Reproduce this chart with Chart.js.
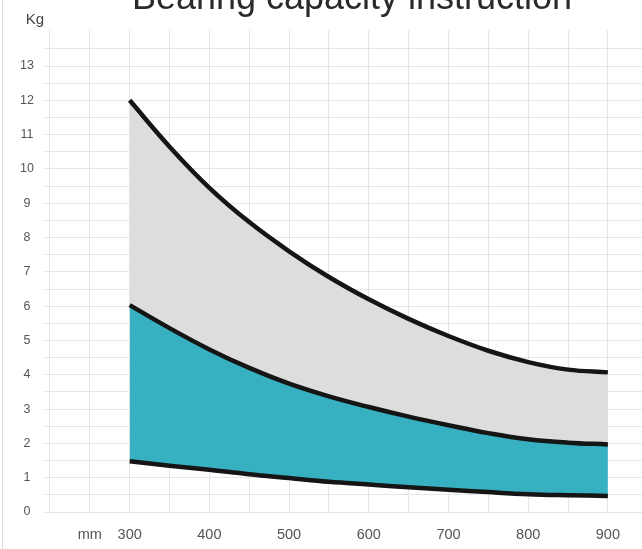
<!DOCTYPE html>
<html>
<head>
<meta charset="utf-8">
<script src="https://cdn.jsdelivr.net/npm/chart.js@4/dist/chart.umd.min.js"></script>
<style>
  html, body { margin: 0; padding: 0; background: #fff; }
  #wrap { width: 642px; height: 549px; position: relative; overflow: hidden; }
</style>
</head>
<body>
<div id="wrap"><canvas id="capacityChart" width="642" height="549"></canvas></div>
<script>
// span length (mm) and load (kg)
const spanMm   = [300, 350, 400, 450, 500, 550, 600, 650, 700, 750, 800, 850, 900];
const upperKg  = [12.0, 10.65, 9.45, 8.45, 7.6, 6.85, 6.2, 5.63, 5.13, 4.7, 4.37, 4.15, 4.07];
const middleKg = [6.03, 5.36, 4.74, 4.2, 3.74, 3.37, 3.06, 2.78, 2.53, 2.3, 2.12, 2.02, 1.97];
const lowerKg  = [1.48, 1.35, 1.23, 1.1, 0.99, 0.88, 0.8, 0.72, 0.65, 0.58, 0.52, 0.49, 0.47];

// grid positions and their labels
const xGridValues = [200, 250, 300, 350, 400, 450, 500, 550, 600, 650, 700, 750, 800, 850, 900];
const xTickLabels = ['', 'mm', '300', '', '400', '', '500', '', '600', '', '700', '', '800', '', '900'];
const yGridValues = [0, 0.5, 1, 1.5, 2, 2.5, 3, 3.5, 4, 4.5, 5, 5.5, 6, 6.5, 7, 7.5, 8, 8.5, 9, 9.5, 10, 10.5, 11, 11.5, 12, 12.5, 13, 13.5];

const titleText = 'Bearing capacity instruction';
const unitText = 'Kg';

const toPoints = (ys) => spanMm.map((x, i) => ({ x: x, y: ys[i] }));

const gridColor = '#e6e6e6';
const lineColor = '#151515';

// title (cut off at the top edge), unit label and the frame line
const decorations = {
    id: 'decorations',
    afterDraw(chart) {
        const ctx = chart.ctx;
        ctx.save();
        ctx.strokeStyle = '#dcdcdc';
        ctx.lineWidth = 1;
        ctx.beginPath();
        ctx.moveTo(2.5, 0);
        ctx.lineTo(2.5, chart.height);
        ctx.stroke();

        ctx.fillStyle = '#2a2a2a';
        ctx.font = '36px "Liberation Sans", Arial, sans-serif';
        ctx.textAlign = 'center';
        ctx.textBaseline = 'alphabetic';
        ctx.fillText(titleText, 352, 9);

        ctx.fillStyle = '#444';
        ctx.font = '15px "Liberation Sans", Arial, sans-serif';
        ctx.fillText(unitText, 35, 24);
        ctx.restore();
    }
};

const lineStyle = {
    borderColor: lineColor,
    borderWidth: 4.5,
    pointRadius: 0,
    tension: 0.4
};

new Chart(document.getElementById('capacityChart'), {
    type: 'line',
    data: {
        datasets: [
            { label: 'lower', data: toPoints(lowerKg), ...lineStyle, fill: false },
            { label: 'middle', data: toPoints(middleKg), ...lineStyle, fill: '-1', backgroundColor: '#37b1c2' },
            { label: 'upper', data: toPoints(upperKg), ...lineStyle, fill: '-1', backgroundColor: '#dddddd' }
        ]
    },
    options: {
        responsive: false,
        animation: false,
        layout: { padding: { top: 30, right: 0, left: 0, bottom: 0 } },
        plugins: {
            legend: { display: false },
            tooltip: { enabled: false },
            filler: { drawTime: 'beforeDatasetsDraw' }
        },
        scales: {
            x: {
                type: 'linear',
                min: 192.5,
                max: 942.8,
                afterBuildTicks: (axis) => {
                    axis.ticks = xGridValues.map(v => ({ value: v }));
                },
                afterFit: (axis) => { axis.height = 37; },
                grid: { color: gridColor, lineWidth: 1, drawTicks: false },
                border: { display: false },
                ticks: {
                    autoSkip: false,
                    maxRotation: 0,
                    padding: 14,
                    color: '#555',
                    font: { family: '"Liberation Sans", Arial, sans-serif', size: 14.5 },
                    callback: (value) => xTickLabels[xGridValues.indexOf(value)] || ''
                }
            },
            y: {
                type: 'linear',
                min: 0,
                max: 14.05,
                afterBuildTicks: (axis) => {
                    axis.ticks = yGridValues.map(v => ({ value: v }));
                },
                afterFit: (axis) => { axis.width = 44; },
                grid: { color: gridColor, lineWidth: 1, drawTicks: false },
                border: { display: false },
                ticks: {
                    autoSkip: false,
                    padding: 10,
                    crossAlign: 'center',
                    color: '#555',
                    font: { family: '"Liberation Sans", Arial, sans-serif', size: 12.5 },
                    callback: (value) => (Number.isInteger(value) && value <= 13) ? String(value) : ''
                }
            }
        }
    },
    plugins: [decorations]
});
</script>
</body>
</html>
